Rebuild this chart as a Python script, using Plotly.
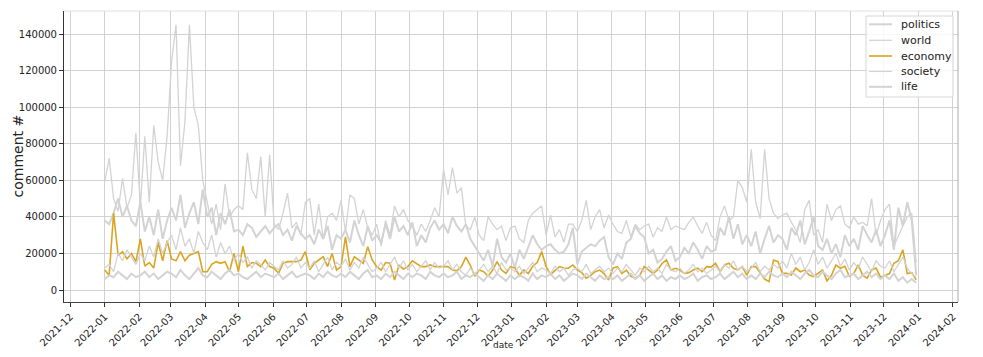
import pandas as pd
import plotly.graph_objects as go

# sampling dates: every 4 days from 2022-01-01 (183 samples)
dates = pd.date_range("2022-01-01", periods=183, freq="4D")

# values in thousands of comments, one row per month
politics = [
    38, 36, 42, 50, 40, 46, 38, 35,
    48, 32, 40, 30, 44, 28, 38,
    45, 38, 52, 34, 42, 48, 36, 55,
    40, 45, 30, 42, 36, 44, 32,
    33, 30, 36, 34, 29, 32, 35, 31,
    34, 36, 30, 33, 27, 35, 31, 28,
    30, 25, 33, 28, 35, 22, 30,
    28, 33, 26, 38, 30, 24, 35, 27,
    30, 26, 36, 28, 40, 32, 35, 30,
    37, 24, 30, 26, 34, 38, 33,
    36, 31, 40, 35, 32, 36, 28, 24,
    20, 16, 22, 13, 28, 18, 15, 20,
    12, 22, 17, 24, 30, 25, 22,
    24, 25, 22, 20, 21, 25, 34,
    14, 21, 23, 25, 24, 27, 29, 18,
    14, 20, 17, 26, 28, 35, 31, 29,
    20, 22, 15, 17, 21, 24, 16,
    18, 23, 20, 26, 22, 17, 24, 21,
    22, 34, 30, 40, 28, 36, 25, 30,
    24, 32, 20, 28, 35, 26, 30,
    28, 22, 34, 30, 38, 25, 32, 40,
    24, 22, 28, 20, 25, 18, 30, 24,
    28, 22, 35, 30, 26, 33, 24,
    30, 38, 22, 45, 35, 48, 38, 8,
]

world = [
    59, 72, 50, 43, 61, 45, 52, 86,
    46, 84, 48, 90, 70, 60, 84,
    125, 145, 68, 92, 145, 100, 90, 60,
    48, 36, 47, 33, 58, 40, 44,
    46, 44, 75, 55, 50, 73, 40, 74,
    36, 33, 42, 53, 34, 37, 30, 48,
    50, 30, 47, 28, 40, 42, 38,
    49, 32, 52, 50, 36, 44, 34, 30,
    36, 24, 38, 30, 46, 40, 44, 38,
    35, 30, 36, 32, 38, 45, 40,
    66, 52, 67, 53, 56, 35, 33, 40,
    30, 27, 40, 36, 33, 35, 27, 34,
    35, 28, 26, 38, 42, 44, 46,
    30, 41, 29, 33, 26, 36, 36,
    32, 38, 49, 33, 40, 44, 34, 41,
    36, 32, 31, 38, 29, 36, 33, 35,
    36, 29, 34, 32, 40, 33, 35,
    34, 33, 37, 40, 35, 31, 37, 30,
    27, 40, 46, 38, 40, 60, 56, 48,
    77, 48, 39, 77, 50, 42, 39,
    41, 42, 37, 33, 26, 44, 49, 30,
    33, 26, 47, 38, 44, 46, 36, 34,
    40, 36, 37, 35, 50, 30, 38,
    44, 47, 24, 30, 35, 40, 42, 15,
]

economy = [
    11, 8, 42, 19, 21, 17, 20, 15.5,
    28, 13, 15, 12, 26, 16, 27,
    17, 16, 21, 16, 19, 20, 21, 10,
    10, 14, 15.5, 14.6, 15.5, 10, 20,
    10, 24, 12.8, 15, 14.6, 12.8, 16.4, 12.8,
    11.9, 9.1, 14.6, 15.5, 15.5, 15.5, 16.4, 21,
    11, 14.6, 16.4, 18.2, 12.8, 20, 10.9,
    12.8, 29, 12.8, 18.2, 16.4, 14.6, 23.7, 16.4,
    12.8, 10.9, 15, 14.6, 5.5, 13.5, 11.5, 12.8,
    16, 14.5, 12.8, 12.8, 13.7, 12.8, 12.8,
    12.8, 12.8, 10.9, 10.5, 12.8, 18, 13.5, 7.5,
    10.9, 10, 7.5, 10.9, 15.5, 10.9, 9.1, 12.8,
    12, 8, 11, 9, 13, 15, 21,
    12.8, 8.5, 10.9, 12.8, 12, 11.9, 13.7,
    11, 9.5, 6.5, 8, 10, 10.9, 9, 5.5,
    11.9, 12.8, 9, 10.9, 7.5, 6.5, 8, 12.8,
    11, 9, 10.9, 14.5, 16.4, 10.9, 11.9,
    10.9, 9.1, 9.5, 10.9, 11.9, 10, 12.8, 12.5,
    14.6, 10, 13.7, 14.6, 11.9, 11, 12.8, 8.2,
    12.8, 12.8, 9.1, 6, 4.6, 16.4, 15.5,
    9.1, 9.1, 8.2, 12, 10, 10.9, 8.2, 7.3,
    9, 10.9, 5, 8, 13.7, 11.9, 13, 7.5,
    9.1, 13.7, 8, 6.5, 11, 12, 7,
    8, 9, 14.6, 16, 22, 9, 9.5, 5.5,
]

society = [
    12, 14, 10, 20, 16, 22, 18, 14,
    20, 16, 24, 18, 28, 20, 26,
    30, 22, 34, 24, 28, 20, 32, 26,
    22, 30, 18, 26, 20, 24, 16,
    20, 15, 18, 12, 16, 14, 11, 15,
    13, 11, 16, 12, 14, 18, 12, 15,
    12, 16, 10, 14, 18, 11, 15,
    13, 17, 11, 15, 12, 18, 14, 10,
    12, 15, 10, 14, 18, 12, 16, 11,
    14, 10, 13, 16, 11, 15, 12,
    13, 16, 11, 14, 10, 8, 12, 9,
    11, 14, 10, 13, 9, 15, 11, 12,
    10, 13, 9, 12, 15, 10, 12,
    11, 9, 13, 10, 12, 8, 11,
    12, 10, 14, 9, 11, 13, 10, 12,
    9, 12, 10, 14, 11, 8, 12, 10,
    13, 10, 12, 9, 14, 11, 10,
    12, 9, 11, 14, 10, 12, 9, 11,
    13, 10, 14, 12, 16, 11, 13, 10,
    12, 15, 10, 13, 11, 14, 12,
    16, 12, 20, 14, 18, 11, 15, 22,
    14, 18, 12, 16, 20, 13, 17, 11,
    15, 12, 18, 14, 10, 16, 13,
    12, 16, 10, 14, 18, 12, 9, 7,
]

life = [
    6, 8, 7, 10, 8, 6, 9, 7,
    8, 10, 7, 9, 6, 8, 10,
    9, 7, 11, 8, 6, 9, 12, 8,
    7, 10, 8, 6, 9, 11, 8,
    9, 7, 6, 8, 10, 7, 9, 8,
    7, 9, 6, 8, 10, 7, 8, 9,
    8, 6, 9, 7, 10, 8, 7,
    9, 7, 10, 8, 6, 9, 11, 7,
    8, 6, 9, 7, 10, 8, 6, 9,
    7, 9, 8, 6, 10, 8, 7,
    9, 7, 8, 10, 6, 8, 7, 9,
    7, 5, 8, 6, 9, 7, 5, 8,
    6, 8, 7, 5, 9, 6, 8,
    7, 9, 6, 8, 5, 7, 9,
    8, 6, 9, 7, 5, 8, 6, 7,
    6, 8, 5, 7, 9, 6, 8, 5,
    7, 9, 6, 8, 5, 7, 6,
    8, 6, 7, 9, 5, 7, 8, 6,
    7, 9, 6, 8, 10, 7, 9, 6,
    8, 6, 9, 7, 10, 8, 7,
    9, 7, 10, 8, 6, 9, 11, 8,
    7, 10, 8, 6, 9, 11, 7, 8,
    9, 6, 8, 10, 7, 9, 6,
    8, 6, 9, 5, 7, 4, 6, 4,
]

series_names = ["politics", "world", "economy", "society", "life"]
series_values = [politics, world, economy, society, life]
series_colors = ["#d3d3d3", "#d3d3d3", "#daa520", "#d3d3d3", "#d3d3d3"]
series_widths = [2, 1.3, 1.6, 1.3, 2]

for vals in series_values:
    assert len(vals) == len(dates), len(vals)

fig = go.Figure()
for name, vals, col, w in zip(series_names, series_values, series_colors, series_widths):
    fig.add_trace(go.Scatter(
        x=dates, y=[v * 1000 for v in vals], mode="lines", name=name,
        line=dict(color=col, width=w), showlegend=False,
    ))

font = "DejaVu Sans, Verdana, sans-serif"
grid = "#d2d2d2"

# plot-area geometry in pixels (for converting the legend box to paper coords)
L, R, T, B = 64, 958, 11, 302
def px(x):
    return (x - L) / (R - L)
def py(y):
    return (B - y) / (B - T)

shapes = [
    dict(type="line", xref="paper", yref="paper", x0=0, x1=1, y0=1, y1=1,
         line=dict(color="#e0e0e0", width=1)),
    dict(type="line", xref="paper", yref="paper", x0=1, x1=1, y0=0, y1=1,
         line=dict(color="#aaaaaa", width=1)),
    dict(type="rect", xref="paper", yref="paper",
         x0=px(866), x1=px(953), y0=py(97), y1=py(16),
         line=dict(color="#d6d6d6", width=1), fillcolor="rgba(255,255,255,0.85)"),
]
annotations = [
    dict(text="comment #", xref="paper", yref="paper", x=px(17), y=0.5,
         textangle=-90, showarrow=False, xanchor="center", yanchor="middle",
         font=dict(family=font, size=14, color="#222222")),
    dict(text="date", xref="paper", yref="paper", x=px(503), y=py(345),
         showarrow=False, xanchor="center", yanchor="middle",
         font=dict(family=font, size=9, color="#222222")),
]
legend_rows = [24.3, 40.3, 56.0, 71.4, 86.8]
for name, col, w, ry in zip(series_names, series_colors, series_widths, legend_rows):
    shapes.append(dict(type="line", xref="paper", yref="paper",
                       x0=px(869), x1=px(892), y0=py(ry), y1=py(ry),
                       line=dict(color=col, width=w)))
    annotations.append(dict(text=name, xref="paper", yref="paper",
                            x=px(899), y=py(ry), showarrow=False,
                            xanchor="left", yanchor="middle",
                            font=dict(family=font, size=11, color="#222222")))

fig.update_layout(
    width=983, height=357,
    margin=dict(l=L, r=983 - R, t=T, b=357 - B),
    paper_bgcolor="white", plot_bgcolor="white",
    font=dict(family=font, size=10, color="#222222"),
    showlegend=False,
    xaxis=dict(
        type="date", automargin=False,
        range=["2021-11-25 12:00", "2024-02-05 12:00"],
        tick0="2021-12-01", dtick="M1", tickformat="%Y-%m",
        tickangle=-45, ticks="outside", ticklen=4, tickcolor="#333333",
        showgrid=True, gridcolor=grid, gridwidth=1,
        showline=True, linecolor="#444444", linewidth=1,
        zeroline=False,
        tickfont=dict(family=font, size=10, color="#222222"),
    ),
    yaxis=dict(
        automargin=False,
        range=[-6562, 152578],
        tick0=0, dtick=20000, tickformat="d",
        ticks="outside", ticklen=4, tickcolor="#333333",
        showgrid=True, gridcolor=grid, gridwidth=1,
        showline=True, linecolor="#333333", linewidth=1,
        zeroline=False,
        tickfont=dict(family=font, size=10, color="#222222"),
    ),
    shapes=shapes,
    annotations=annotations,
)

fig.write_html(
    "out.html",
    config={"displayModeBar": False},
    post_script="document.body.style.margin='0';document.body.style.padding='0';"
                "document.body.style.overflow='hidden';",
)
